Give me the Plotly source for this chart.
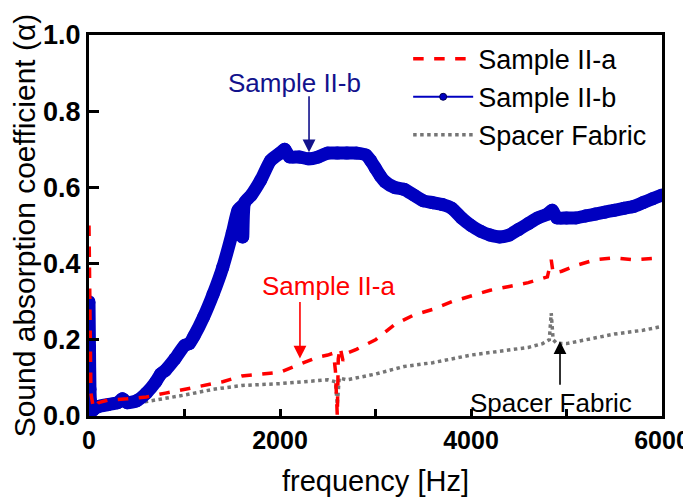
import plotly.graph_objects as go

# ---- data ----
freq_b = [0, 5, 10, 15, 25, 40, 60, 100, 200, 300, 350, 400, 500, 600, 700, 750, 800, 900,
          1000, 1050, 1100, 1200, 1300, 1400, 1500, 1560, 1600, 1610, 1630, 1700, 1800, 1900,
          2000, 2050, 2100, 2200, 2300, 2400, 2500, 2600, 2700, 2800, 2900, 2950, 3000, 3050,
          3100, 3200, 3300, 3400, 3500, 3600, 3700, 3800, 3900, 4000, 4100, 4200, 4300, 4400,
          4500, 4600, 4700, 4800, 4850, 4900, 5000, 5100, 5200, 5300, 5400, 5500, 5600, 5700,
          5800, 5900, 6000]
alpha_b = [0.30, 0.18, 0.07, 0.04, 0.02, 0.015, 0.02, 0.025, 0.03, 0.035, 0.045, 0.035, 0.04,
           0.06, 0.09, 0.11, 0.12, 0.15, 0.185, 0.19, 0.21, 0.26, 0.32, 0.39, 0.48, 0.54, 0.55,
           0.47, 0.56, 0.58, 0.62, 0.67, 0.69, 0.70, 0.68, 0.68, 0.675, 0.68, 0.69, 0.69, 0.69,
           0.69, 0.685, 0.67, 0.65, 0.63, 0.615, 0.60, 0.595, 0.58, 0.565, 0.56, 0.555, 0.545,
           0.52, 0.50, 0.485, 0.475, 0.47, 0.475, 0.49, 0.505, 0.52, 0.53, 0.54, 0.52, 0.52,
           0.52, 0.525, 0.53, 0.535, 0.54, 0.545, 0.55, 0.56, 0.57, 0.58]

freq_a = [0, 5, 10, 20, 40, 60, 100, 200, 400, 600, 800, 1000, 1200, 1400, 1600, 1800, 2000,
          2200, 2400, 2500, 2560, 2580, 2600, 2610, 2630, 2660, 2700, 2800, 3000, 3200, 3400,
          3600, 3800, 4000, 4200, 4400, 4600, 4800, 4840, 4860, 4950, 5100, 5300, 5500, 5700,
          6000]
alpha_a = [0.50, 0.30, 0.15, 0.06, 0.03, 0.02, 0.035, 0.042, 0.045, 0.05, 0.06, 0.07, 0.08,
           0.09, 0.105, 0.11, 0.115, 0.135, 0.155, 0.16, 0.165, 0.12, 0.0, 0.15, 0.18, 0.145,
           0.165, 0.175, 0.20, 0.24, 0.265, 0.28, 0.30, 0.315, 0.33, 0.34, 0.35, 0.365, 0.41,
           0.375, 0.38, 0.395, 0.41, 0.415, 0.41, 0.415]

freq_s = [0, 5, 10, 20, 100, 300, 500, 800, 1000, 1300, 1600, 2000, 2300, 2500, 2580, 2600,
          2620, 2700, 3000, 3300, 3600, 4000, 4300, 4600, 4750, 4820, 4840, 4860, 4900, 5000,
          5200, 5500, 5800, 6000]
alpha_s = [0.30, 0.15, 0.05, 0.02, 0.02, 0.025, 0.033, 0.045, 0.055, 0.07, 0.08, 0.085, 0.09,
           0.095, 0.09, 0.03, 0.10, 0.095, 0.11, 0.13, 0.14, 0.16, 0.17, 0.18, 0.19, 0.20, 0.27,
           0.20, 0.19, 0.19, 0.20, 0.215, 0.225, 0.235]

x_ticks = [0, 2000, 4000, 6000]
y_ticks = [0.0, 0.2, 0.4, 0.6, 0.8, 1.0]
y_tick_labels = ["0.0", "0.2", "0.4", "0.6", "0.8", "1.0"]

FONT = "Liberation Sans, Arial, sans-serif"
RED = "#ff0000"
BLUE = "#0000c0"
GRAY = "#757575"
NAVY = "#12128c"

fig = go.Figure()

# main traces
fig.add_trace(go.Scatter(x=freq_s, y=alpha_s, mode="lines", showlegend=False,
                         line=dict(color=GRAY, width=3.5, dash="dot")))
fig.add_trace(go.Scatter(x=freq_b, y=alpha_b, mode="lines+markers", showlegend=False,
                         line=dict(color=BLUE, width=13, shape="spline", smoothing=0.6),
                         marker=dict(color=BLUE, size=13, line=dict(width=0))))
fig.add_trace(go.Scatter(x=freq_a, y=alpha_a, mode="lines", showlegend=False,
                         line=dict(color=RED, width=3.5, dash="dash")))

# legend entries
fig.add_trace(go.Scatter(x=[None], y=[None], mode="lines", name="Sample II-a",
                         line=dict(color=RED, width=3.5, dash="dash")))
fig.add_trace(go.Scatter(x=[None], y=[None], mode="lines+markers", name="Sample II-b",
                         line=dict(color=BLUE, width=2),
                         marker=dict(color=BLUE, size=7, line=dict(color="#000050", width=1))))
fig.add_trace(go.Scatter(x=[None], y=[None], mode="lines", name="Spacer Fabric",
                         line=dict(color=GRAY, width=3.5, dash="dot")))

ann = []
# text labels
ann.append(dict(x=2157, y=0.875, xref="x", yref="y", text="Sample II-b", showarrow=False,
                font=dict(family=FONT, size=26, color=NAVY)))
ann.append(dict(x=2503, y=0.342, xref="x", yref="y", text="Sample II-a", showarrow=False,
                font=dict(family=FONT, size=26, color=RED)))
ann.append(dict(x=4838, y=0.034, xref="x", yref="y", text="Spacer Fabric", showarrow=False,
                font=dict(family=FONT, size=26, color="black")))
# arrows
for (xt, yt, ytail, col) in [(2304, 0.692, 0.843, NAVY), (2209, 0.151, 0.303, RED),
                             (4932, 0.196, 0.078, "black")]:
    ann.append(dict(x=xt, y=yt, ax=xt, ay=ytail, xref="x", yref="y", axref="x", ayref="y",
                    text="", showarrow=True, arrowhead=2, arrowsize=1.6, arrowwidth=1.6,
                    arrowcolor=col, standoff=0, startstandoff=0))

# the page body adds an 8px margin, so the figure is 8px smaller and margins shifted
fig.update_layout(
    width=683, height=489,
    margin=dict(l=81, r=29, t=27, b=81),
    paper_bgcolor="white", plot_bgcolor="white",
    font=dict(family=FONT, color="black"),
    annotations=ann,
    legend=dict(x=0.557, y=1.001, xanchor="left", yanchor="top", bgcolor="rgba(0,0,0,0)",
                font=dict(family=FONT, size=27, color="black"), itemwidth=60,
                tracegroupgap=0),
    xaxis=dict(range=[0, 6000], tickvals=x_ticks, ticks="inside", ticklen=7, tickwidth=3,
               tickcolor="black", showline=True, linewidth=3, linecolor="black", mirror=True,
               showgrid=False, zeroline=False, automargin=False, ticklabeloverflow="allow",
               minor=dict(dtick=1000, ticks="inside", ticklen=7, tickwidth=3, tickcolor="black"),
               tickfont=dict(family=FONT, size=25, color="black", weight="bold"),
               title=dict(text="frequency [Hz]", font=dict(family=FONT, size=29), standoff=18)),
    yaxis=dict(range=[0, 1], tickvals=y_ticks, ticktext=y_tick_labels, ticks="inside",
               ticklen=10, tickwidth=3, tickcolor="black", showline=True, linewidth=3,
               linecolor="black", mirror=True, showgrid=False, zeroline=False, automargin=False,
               ticklabeloverflow="allow",
               tickfont=dict(family=FONT, size=27, color="black", weight="bold"),
               title=dict(text="Sound absorption coefficient (α)",
                          font=dict(family=FONT, size=30), standoff=10)),
)

fig.write_html("out.html")
